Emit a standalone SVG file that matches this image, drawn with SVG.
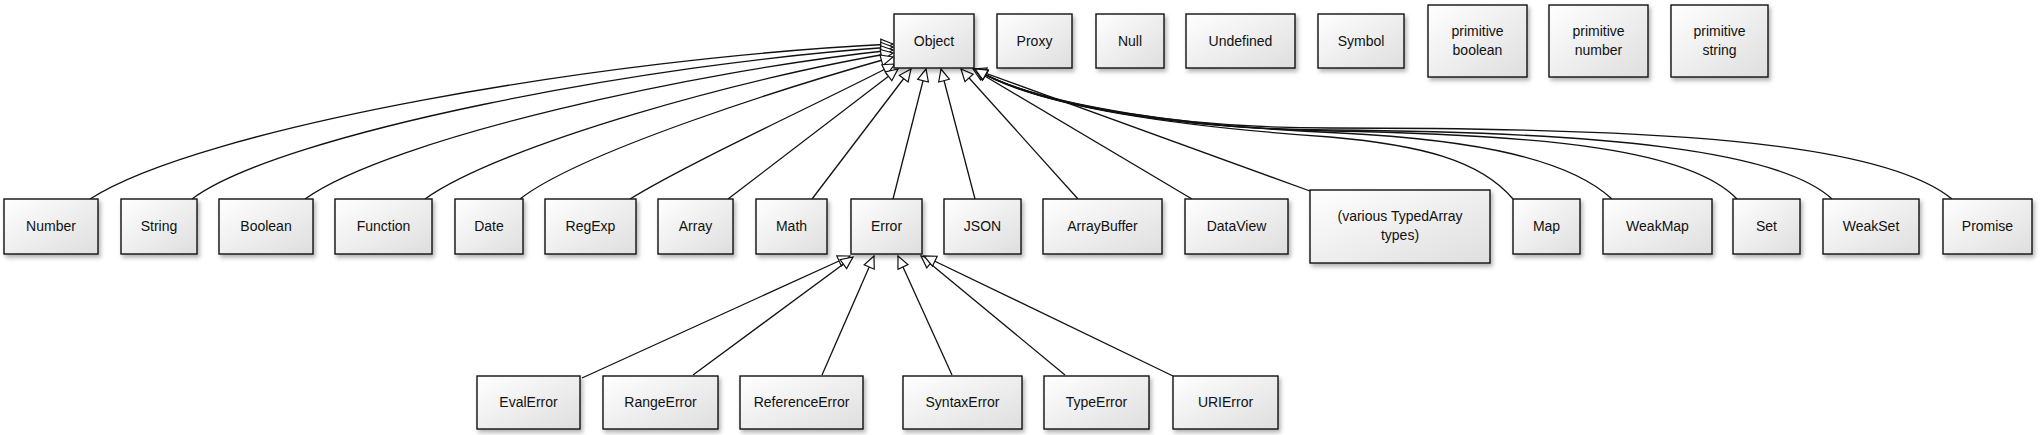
<svg xmlns="http://www.w3.org/2000/svg" width="2040" height="435" viewBox="0 0 2040 435">
<style>
.box{fill:url(#g);stroke:#111;stroke-width:1.4;filter:url(#sh)}
.t{font-family:"Liberation Sans",Arial,sans-serif;font-size:14px;fill:#111;text-anchor:middle;dominant-baseline:central}
.c{fill:none;stroke:#111;stroke-width:1.3;marker-end:url(#tri)}
</style>
<defs>
<linearGradient id="g" x1="0" y1="0" x2="1" y2="1">
<stop offset="0" stop-color="#ffffff"/>
<stop offset="1" stop-color="#dedede"/>
</linearGradient>
<filter id="sh" x="-10%" y="-10%" width="130%" height="140%">
<feDropShadow dx="2" dy="3" stdDeviation="2" flood-color="#000" flood-opacity="0.3"/>
</filter>
<marker id="tri" markerUnits="userSpaceOnUse" markerWidth="16" markerHeight="14" viewBox="-14 -7 16 14" refX="0" refY="0" orient="auto">
<path d="M0,0 L-12,-5.5 L-12,5.5 Z" fill="#fff" stroke="#111" stroke-width="1.2"/>
</marker>
</defs>

<g id="connectors">
<path class="c" d="M90,199 C200,128 600,58 893,44"/>
<path class="c" d="M192,199 C280,133 650,63 893,47"/>
<path class="c" d="M305,199 C390,138 700,70 893,50"/>
<path class="c" d="M425,199 C500,145 750,76 893,53"/>
<path class="c" d="M520,199 C580,152 790,86 893,57"/>
<path class="c" d="M630,199 C690,162 830,98 895,64"/>
<path class="c" d="M728,199 L898,69"/>
<path class="c" d="M812,199 L911,69"/>
<path class="c" d="M893,199 L926,69"/>
<path class="c" d="M975,199 L941,69"/>
<path class="c" d="M1078,199 L961,69"/>
<path class="c" d="M1192,199 L973,69"/>
<path class="c" d="M1310,191 L974,69"/>
<path class="c" d="M1513,199 C1480,160 1420,145 1330,137 C1200,128 1040,110 975,69"/>
<path class="c" d="M1612,199 C1570,160 1480,140 1340,133 C1200,127 1040,108 975,69"/>
<path class="c" d="M1737,199 C1690,150 1550,135 1330,131 C1180,128 1040,107 975,69"/>
<path class="c" d="M1832,199 C1780,150 1600,132 1330,130 C1180,129 1040,107 975,69"/>
<path class="c" d="M1952,199 C1880,140 1650,128 1330,128 C1180,128 1040,106 975,69"/>
<path class="c" d="M582,378 L850,256"/>
<path class="c" d="M693,375 L853,257"/>
<path class="c" d="M822,375 L874,256"/>
<path class="c" d="M952,375 L898,256"/>
<path class="c" d="M1065,375 L921,256"/>
<path class="c" d="M1173,376 L924,256"/>
</g>

<g id="Object"><rect class="box" x="894" y="14" width="80" height="54"/><text class="t" x="934" y="41">Object</text></g>
<g id="Proxy"><rect class="box" x="997" y="14" width="75" height="54"/><text class="t" x="1034.5" y="41">Proxy</text></g>
<g id="Null"><rect class="box" x="1096" y="14" width="68" height="54"/><text class="t" x="1130" y="41">Null</text></g>
<g id="Undefined"><rect class="box" x="1186" y="14" width="109" height="54"/><text class="t" x="1240.5" y="41">Undefined</text></g>
<g id="Symbol"><rect class="box" x="1318" y="14" width="86" height="54"/><text class="t" x="1361" y="41">Symbol</text></g>
<g id="primitive-boolean"><rect class="box" x="1428" y="5" width="99" height="72"/><text class="t" x="1477.5" y="31">primitive</text><text class="t" x="1477.5" y="50">boolean</text></g>
<g id="primitive-number"><rect class="box" x="1549" y="5" width="99" height="72"/><text class="t" x="1598.5" y="31">primitive</text><text class="t" x="1598.5" y="50">number</text></g>
<g id="primitive-string"><rect class="box" x="1671" y="5" width="97" height="72"/><text class="t" x="1719.5" y="31">primitive</text><text class="t" x="1719.5" y="50">string</text></g>

<g id="Number"><rect class="box" x="4" y="199" width="94" height="55"/><text class="t" x="51" y="226">Number</text></g>
<g id="String"><rect class="box" x="121" y="199" width="76" height="55"/><text class="t" x="159" y="226">String</text></g>
<g id="Boolean"><rect class="box" x="219" y="199" width="94" height="55"/><text class="t" x="266" y="226">Boolean</text></g>
<g id="Function"><rect class="box" x="335" y="199" width="97" height="55"/><text class="t" x="383.5" y="226">Function</text></g>
<g id="Date"><rect class="box" x="455" y="199" width="68" height="55"/><text class="t" x="489" y="226">Date</text></g>
<g id="RegExp"><rect class="box" x="545" y="199" width="91" height="55"/><text class="t" x="590.5" y="226">RegExp</text></g>
<g id="Array"><rect class="box" x="658" y="199" width="75" height="55"/><text class="t" x="695.5" y="226">Array</text></g>
<g id="Math"><rect class="box" x="756" y="199" width="71" height="55"/><text class="t" x="791.5" y="226">Math</text></g>
<g id="Error"><rect class="box" x="851" y="199" width="71" height="55"/><text class="t" x="886.5" y="226">Error</text></g>
<g id="JSON"><rect class="box" x="944" y="199" width="77" height="55"/><text class="t" x="982.5" y="226">JSON</text></g>
<g id="ArrayBuffer"><rect class="box" x="1043" y="199" width="119" height="55"/><text class="t" x="1102.5" y="226">ArrayBuffer</text></g>
<g id="DataView"><rect class="box" x="1185" y="199" width="103" height="55"/><text class="t" x="1236.5" y="226">DataView</text></g>
<g id="TypedArray"><rect class="box" x="1310" y="190" width="180" height="73"/><text class="t" x="1400" y="216">(various TypedArray</text><text class="t" x="1400" y="235">types)</text></g>
<g id="Map"><rect class="box" x="1513" y="199" width="67" height="55"/><text class="t" x="1546.5" y="226">Map</text></g>
<g id="WeakMap"><rect class="box" x="1603" y="199" width="109" height="55"/><text class="t" x="1657.5" y="226">WeakMap</text></g>
<g id="Set"><rect class="box" x="1733" y="199" width="67" height="55"/><text class="t" x="1766.5" y="226">Set</text></g>
<g id="WeakSet"><rect class="box" x="1823" y="199" width="96" height="55"/><text class="t" x="1871" y="226">WeakSet</text></g>
<g id="Promise"><rect class="box" x="1943" y="199" width="89" height="55"/><text class="t" x="1987.5" y="226">Promise</text></g>

<g id="EvalError"><rect class="box" x="477" y="376" width="103" height="53"/><text class="t" x="528.5" y="402">EvalError</text></g>
<g id="RangeError"><rect class="box" x="603" y="376" width="115" height="53"/><text class="t" x="660.5" y="402">RangeError</text></g>
<g id="ReferenceError"><rect class="box" x="740" y="376" width="123" height="53"/><text class="t" x="801.5" y="402">ReferenceError</text></g>
<g id="SyntaxError"><rect class="box" x="903" y="376" width="119" height="53"/><text class="t" x="962.5" y="402">SyntaxError</text></g>
<g id="TypeError"><rect class="box" x="1044" y="376" width="105" height="53"/><text class="t" x="1096.5" y="402">TypeError</text></g>
<g id="URIError"><rect class="box" x="1173" y="376" width="105" height="53"/><text class="t" x="1225.5" y="402">URIError</text></g>
</svg>
